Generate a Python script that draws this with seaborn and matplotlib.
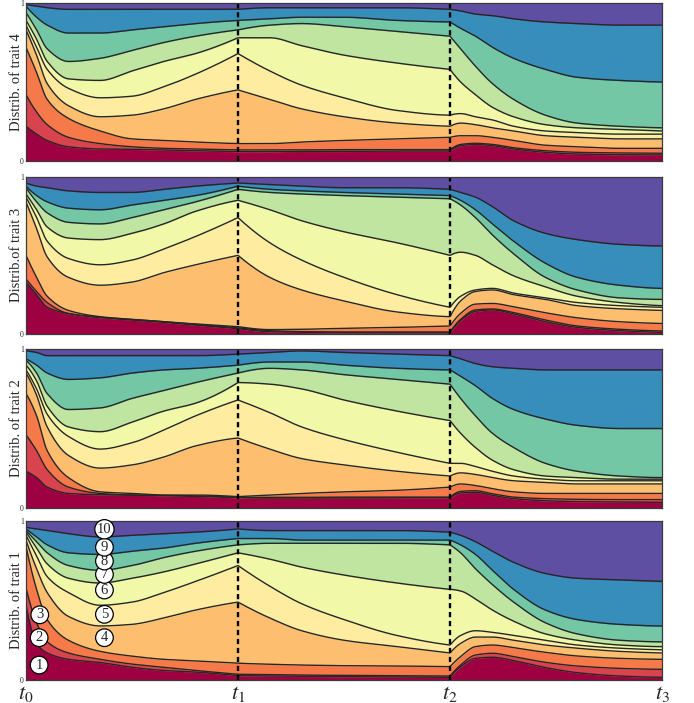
import numpy as np
import pandas as pd
import matplotlib
matplotlib.use("Agg")
import matplotlib.pyplot as plt
import seaborn as sns

# Time grid (t0 = 0, t1 = 1, t2 = 2, t3 = 3)
times = [0, .05, .1, .2, .35, .5, .65, .8, 1.0, 1.15, 1.3, 1.5, 1.75, 2.0,
         2.05, 2.12, 2.2, 2.3, 2.45, 2.6, 2.8, 3.0]
phase_times = [1.0, 2.0]
tick_times = [0, 1, 2, 3]
tick_labels = [r"$t_0$", r"$t_1$", r"$t_2$", r"$t_3$"]

# Cumulative share at the top of classes 1..9 (class 10 fills up to 1)
trait4_cum = [
    [.22, .17, .13, .09, .076, .074, .069, .065, .059, .059, .061, .061, .063, .063, .097, .105, .097, .076, .055, .044, .040, .038],
    [.42, .31, .23, .15, .11, .09, .08, .076, .07, .07, .07, .072, .072, .072, .105, .112, .105, .084, .065, .055, .051, .049],
    [.72, .56, .39, .27, .19, .14, .13, .12, .11, .11, .12, .13, .14, .15, .16, .16, .15, .13, .10, .09, .08, .08],
    [.83, .67, .49, .35, .28, .29, .33, .39, .45, .39, .33, .28, .24, .22, .24, .23, .21, .19, .16, .15, .14, .14],
    [.86, .72, .58, .46, .40, .41, .47, .55, .68, .57, .48, .40, .32, .29, .30, .28, .26, .22, .19, .18, .17, .17],
    [.89, .77, .63, .52, .51, .57, .63, .68, .78, .78, .73, .67, .62, .58, .50, .42, .34, .28, .23, .21, .20, .19],
    [.94, .83, .71, .63, .65, .70, .75, .79, .83, .86, .87, .85, .82, .79, .71, .60, .49, .39, .29, .24, .22, .21],
    [.98, .91, .86, .81, .81, .83, .85, .87, .89, .90, .91, .91, .89, .88, .84, .79, .72, .65, .58, .53, .51, .50],
    [.99, .98, .97, .96, .96, .96, .96, .96, .96, .97, .97, .97, .97, .96, .95, .93, .92, .90, .88, .87, .86, .86],
]
trait3_cum = [
    [.33, .25, .17, .13, .104, .089, .074, .057, .034, .015, .011, .008, .008, .008, .085, .144, .153, .127, .078, .042, .021, .011],
    [.35, .27, .20, .13, .106, .093, .078, .061, .040, .021, .015, .013, .013, .013, .093, .153, .159, .136, .089, .051, .030, .019],
    [.50, .36, .24, .15, .11, .093, .078, .064, .047, .028, .030, .036, .042, .051, .131, .190, .194, .173, .135, .103, .078, .067],
    [.84, .67, .49, .36, .31, .33, .39, .44, .50, .36, .28, .21, .14, .11, .21, .27, .28, .25, .22, .18, .16, .15],
    [.87, .74, .59, .48, .44, .47, .54, .62, .74, .58, .47, .36, .25, .17, .24, .28, .29, .26, .23, .20, .18, .17],
    [.89, .79, .68, .61, .60, .64, .70, .78, .85, .79, .72, .65, .58, .50, .52, .50, .44, .37, .30, .24, .20, .18],
    [.93, .84, .77, .71, .70, .74, .79, .84, .92, .90, .89, .88, .87, .86, .82, .74, .63, .51, .36, .28, .23, .22],
    [.94, .88, .84, .80, .79, .82, .85, .88, .94, .92, .91, .90, .89, .88, .85, .79, .70, .59, .45, .36, .31, .29],
    [.96, .94, .93, .91, .90, .90, .92, .94, .96, .95, .94, .93, .93, .92, .90, .87, .81, .72, .64, .60, .57, .56],
]
trait2_cum = [
    [.23, .19, .13, .09, .082, .08, .076, .072, .063, .061, .061, .061, .063, .063, .093, .097, .078, .057, .044, .038, .036, .034],
    [.46, .36, .24, .13, .09, .08, .078, .074, .065, .065, .065, .067, .067, .067, .103, .107, .088, .067, .057, .053, .051, .051],
    [.72, .58, .36, .19, .10, .09, .08, .08, .07, .08, .09, .10, .11, .13, .15, .14, .12, .10, .09, .09, .09, .09],
    [.85, .71, .51, .33, .25, .27, .32, .39, .44, .37, .31, .27, .23, .20, .22, .21, .19, .17, .16, .15, .15, .15],
    [.87, .75, .59, .45, .37, .41, .49, .58, .68, .60, .51, .43, .35, .28, .28, .26, .23, .20, .18, .17, .17, .17],
    [.90, .80, .64, .51, .48, .54, .61, .66, .79, .78, .75, .68, .61, .55, .47, .38, .30, .24, .20, .19, .18, .18],
    [.93, .85, .72, .62, .63, .69, .74, .79, .85, .88, .87, .84, .81, .78, .69, .58, .47, .38, .28, .23, .20, .19],
    [.94, .90, .85, .81, .82, .85, .87, .88, .90, .92, .92, .90, .88, .87, .83, .77, .69, .62, .56, .52, .50, .50],
    [.99, .98, .96, .96, .96, .96, .96, .96, .97, .98, .99, .98, .97, .96, .94, .91, .89, .88, .87, .87, .87, .87],
]
trait1_cum = [
    [.47, .23, .17, .13, .11, .08, .06, .05, .027, .025, .023, .021, .019, .017, .084, .136, .143, .122, .078, .046, .025, .017],
    [.58, .36, .24, .17, .13, .10, .08, .06, .036, .034, .031, .029, .027, .025, .094, .157, .168, .147, .111, .088, .073, .067],
    [.84, .57, .38, .25, .18, .15, .13, .12, .105, .099, .094, .090, .088, .084, .147, .210, .220, .203, .174, .151, .136, .130],
    [.88, .70, .55, .40, .34, .35, .39, .44, .49, .39, .31, .25, .21, .17, .23, .27, .27, .25, .22, .20, .18, .17],
    [.91, .78, .65, .55, .47, .49, .55, .62, .72, .59, .48, .38, .28, .22, .28, .31, .30, .28, .25, .22, .20, .19],
    [.93, .83, .73, .64, .61, .64, .68, .73, .80, .76, .71, .66, .61, .57, .56, .51, .44, .37, .29, .25, .22, .21],
    [.94, .87, .80, .72, .69, .72, .77, .81, .85, .86, .86, .86, .86, .85, .80, .70, .60, .49, .36, .29, .25, .24],
    [.95, .90, .85, .80, .79, .81, .83, .86, .89, .89, .88, .88, .88, .88, .85, .79, .69, .57, .44, .38, .35, .34],
    [.96, .95, .94, .92, .90, .91, .92, .93, .95, .94, .94, .94, .94, .93, .91, .87, .81, .74, .67, .64, .63, .62],
]

panel_labels = ["Distrib. of trait 4", "Distrib.of trait 3",
                "Distrib. of trait 2", "Distrib. of trait 1"]
panel_data = [trait4_cum, trait3_cum, trait2_cum, trait1_cum]

# Class numbers annotated in the trait-1 panel
class_ids = ["1", "2", "3", "4", "5", "6", "7", "8", "9", "10"]
class_x = [.062, .062, .065, .37, .37, .37, .37, .37, .37, .37]
class_y = [.094, .266, .41, .266, .413, .566, .664, .748, .835, .948]


def pchip(xk, yk, xq):
    """Monotone piecewise-cubic Hermite curve through (xk, yk)."""
    xk = np.asarray(xk, float)
    yk = np.asarray(yk, float)
    h = np.diff(xk)
    d = np.diff(yk) / h
    n = len(xk)
    m = np.zeros(n)
    if n == 2:
        m[:] = d[0]
    else:
        for i in range(1, n - 1):
            if d[i - 1] * d[i] > 0:
                w1 = 2 * h[i] + h[i - 1]
                w2 = h[i] + 2 * h[i - 1]
                m[i] = (w1 + w2) / (w1 / d[i - 1] + w2 / d[i])
        for j, (h0, h1, d0, d1) in ((0, (h[0], h[1], d[0], d[1])),
                                    (n - 1, (h[-1], h[-2], d[-1], d[-2]))):
            s = ((2 * h0 + h1) * d0 - h0 * d1) / (h0 + h1)
            if np.sign(s) != np.sign(d0):
                s = 0.0
            elif np.sign(d0) != np.sign(d1) and abs(s) > abs(3 * d0):
                s = 3 * d0
            m[j] = s
    idx = np.clip(np.searchsorted(xk, xq, side="right") - 1, 0, n - 2)
    t = (xq - xk[idx]) / h[idx]
    h00 = 2 * t**3 - 3 * t**2 + 1
    h10 = t**3 - 2 * t**2 + t
    h01 = -2 * t**3 + 3 * t**2
    h11 = t**3 - t**2
    return (h00 * yk[idx] + h10 * h[idx] * m[idx]
            + h01 * yk[idx + 1] + h11 * h[idx] * m[idx + 1])


def phase_curve(values):
    """Smooth curve within each phase, keeping the breaks at t1 and t2."""
    x = np.asarray(times)
    y = np.asarray(values, float)
    edges = [0.0] + phase_times + [3.0]
    xs, ys = [], []
    for a, b in zip(edges[:-1], edges[1:]):
        sel = (x >= a - 1e-9) & (x <= b + 1e-9)
        xq = np.linspace(a, b, 160)
        xs.append(xq)
        ys.append(pchip(x[sel], y[sel], xq))
    return np.concatenate(xs), np.concatenate(ys)


sns.set_style("white")
plt.rcParams["font.family"] = ["Liberation Serif", "DejaVu Serif"]
plt.rcParams["mathtext.fontset"] = "stix"

colors = sns.color_palette("Spectral", as_cmap=True)(np.linspace(0, 1, 10))

fig = plt.figure(figsize=(6.94, 7.03), dpi=100)
left, width = 26 / 694, 636 / 694
rows = [(3, 161), (176.7, 334), (349.3, 507.7), (521, 680)]

for i, (label, cum) in enumerate(zip(panel_labels, panel_data)):
    top, bottom = rows[i]
    ax = fig.add_axes([left, (703 - bottom) / 703, width, (bottom - top) / 703])

    curves = [phase_curve(b) for b in cum]
    xd = curves[0][0]
    bounds = np.clip(np.array([c[1] for c in curves]), 0, 1)
    bounds = np.maximum.accumulate(bounds, axis=0)

    lower = np.zeros_like(xd)
    uppers = list(bounds) + [np.ones_like(xd)]
    for k, upper in enumerate(uppers):
        ax.fill_between(xd, lower, upper, facecolor=colors[k],
                        edgecolor=colors[k], lw=0.4, zorder=1)
        lower = upper

    df = pd.DataFrame({
        "time": np.tile(xd, len(cum)),
        "share": bounds.ravel(),
        "boundary": np.repeat(np.arange(len(cum)), len(xd)),
    })
    sns.lineplot(data=df, x="time", y="share", units="boundary",
                 estimator=None, sort=False, color="#262626", lw=1.0,
                 ax=ax, legend=False, zorder=3)

    for t in phase_times:
        ax.axvline(t, color="black", lw=1.7, ls=(0, (2.2, 1.6)), zorder=5)

    ax.set_xlim(0, 3)
    ax.set_ylim(0, 1)
    ax.set_yticks([0, 1])
    ax.set_yticklabels(["0", "1"], fontsize=5.5)
    ax.tick_params(axis="y", length=0, pad=1.5)
    ax.set_xticks(tick_times)
    ax.set_xticks(np.arange(1, 5) * 0.716, minor=True)
    ax.tick_params(axis="x", which="major", length=0, pad=3)
    ax.tick_params(axis="x", which="minor", length=2, width=0.8,
                   direction="in", color="#333333")
    if i == 3:
        ax.set_xticklabels(tick_labels, fontsize=16)
    else:
        ax.set_xticklabels([])
    ax.set_xlabel("")
    ax.set_ylabel(label, fontsize=10.5)
    ax.yaxis.set_label_coords(-0.004, 0.5)
    for s in ax.spines.values():
        s.set_color("#3a3a3a")
        s.set_linewidth(0.9)
        s.set_zorder(6)

    if i == 3:
        for cid, cx, cy in zip(class_ids, class_x, class_y):
            ax.text(cx, cy, cid, ha="center", va="center", fontsize=10.5,
                    zorder=7,
                    bbox=dict(boxstyle="circle,pad=0.16", fc="white",
                              ec="black", lw=0.9))

fig.savefig("out.png", dpi=100)
